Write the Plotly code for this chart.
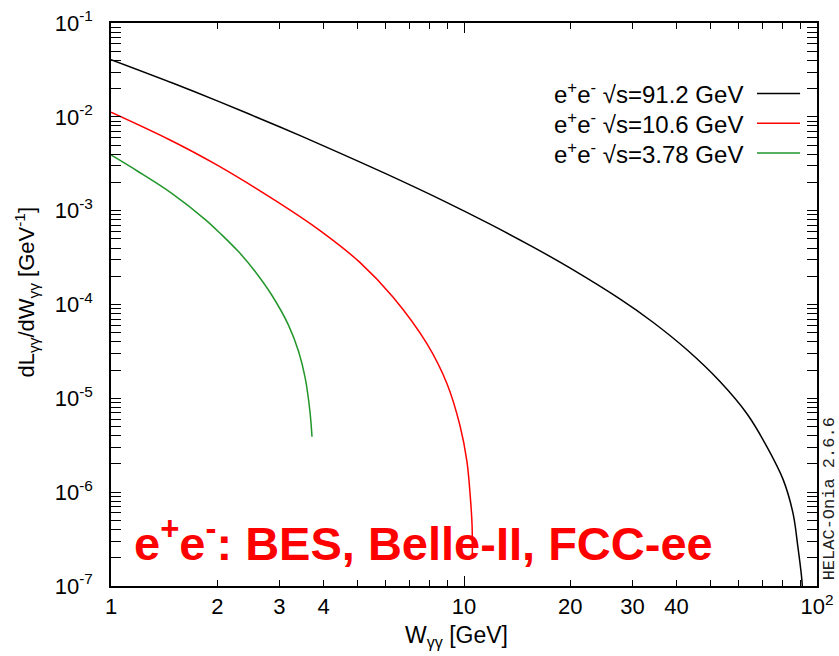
import plotly.graph_objects as go

# ---- data ----
w_913 = [1.0, 1.5, 2.0, 3.0, 4.0, 6.0, 8.72, 11.85, 15.8, 20.0, 27.7, 34.3, 42.9,
         53.1, 63.4, 72.1, 80.2, 85.5, 88.3, 90.7, 91.2]
l_913 = [0.0407, 0.0228, 0.0148, 7.83e-3, 4.91e-3, 2.48e-3, 1.28e-3, 7.18e-4, 4.04e-4,
         2.44e-4, 1.14e-4, 6.47e-5, 3.27e-5, 1.51e-5, 6.81e-6, 3.06e-6, 1.36e-6,
         5.97e-7, 2.59e-7, 1.10e-7, 5e-8]

w_106 = [1.0, 1.47, 2.0, 3.0, 3.91, 5.07, 6.29, 7.85, 8.95, 9.74, 10.19, 10.40, 10.54, 10.56]
l_106 = [1.12e-2, 5.66e-3, 3.05e-3, 1.2e-3, 6.12e-4, 2.81e-4, 1.2e-4, 3.82e-5, 1.43e-5,
         5.13e-6, 2.14e-6, 9.77e-7, 4.47e-7, 2.1e-7]

w_378 = [1.0, 1.19, 1.49, 1.85, 2.06, 2.30, 2.56, 2.85, 3.18, 3.40, 3.55, 3.66, 3.71]
l_378 = [3.92e-3, 2.63e-3, 1.52e-3, 8.04e-4, 5.52e-4, 3.64e-4, 2.25e-4, 1.27e-4,
         6.07e-5, 3.16e-5, 1.64e-5, 7.31e-6, 3.9e-6]

series_names = ["e<sup>+</sup>e<sup>-</sup> \u221as=91.2 GeV",
                "e<sup>+</sup>e<sup>-</sup> \u221as=10.6 GeV",
                "e<sup>+</sup>e<sup>-</sup> \u221as=3.78 GeV"]
series_colors = ["#000000", "#ff0000", "#22962a"]

x_tickvals = [1, 2, 3, 4, 10, 20, 30, 40, 100]
x_ticktext = ["1", "2", "3", "4", "10", "20", "30", "40", "10<sup>2</sup>"]
y_tickvals = [1e-7, 1e-6, 1e-5, 1e-4, 1e-3, 1e-2, 1e-1]
y_ticktext = ["10<sup>-7</sup>", "10<sup>-6</sup>", "10<sup>-5</sup>", "10<sup>-4</sup>",
              "10<sup>-3</sup>", "10<sup>-2</sup>", "10<sup>-1</sup>"]

FONT = "Liberation Sans, Arial, Helvetica, sans-serif"

fig = go.Figure()
for xs, ys, c in zip([w_913, w_106, w_378], [l_913, l_106, l_378], series_colors):
    fig.add_trace(go.Scatter(x=xs, y=ys, mode="lines",
                             line=dict(color=c, width=1.5, shape="spline", smoothing=1.0),
                             showlegend=False, hoverinfo="skip"))

# invisible trace on overlay axis for the long decade ticks
fig.add_trace(go.Scatter(x=[1, 100], y=[1e-7, 1e-7], xaxis="x2", mode="lines",
                         line=dict(width=0), showlegend=False, hoverinfo="skip"))

x_minor = [m * 10 ** e for e in range(0, 2) for m in range(5, 10)]
y_minor = [m * 10.0 ** e for e in range(-7, -1) for m in range(2, 10)]

axis_common = dict(showline=True, linecolor="black", linewidth=1.5, mirror="allticks",
                   ticks="inside", tickcolor="black", showgrid=False, zeroline=False,
                   automargin=False, ticklabeloverflow="allow")

fig.update_layout(
    template="none",
    width=839, height=656,
    margin=dict(l=111, r=22, t=23, b=70),
    paper_bgcolor="white", plot_bgcolor="white",
    font=dict(family=FONT, size=22, color="black"),
    xaxis=dict(type="log", range=[0, 2], tickmode="array", tickvals=x_tickvals,
               ticktext=x_ticktext, ticklen=6, tickwidth=1.2,
               minor=dict(tickmode="array", tickvals=x_minor, ticklen=6, tickwidth=1.2,
                          ticks="inside", tickcolor="black", showgrid=False),
               **axis_common),
    xaxis2=dict(type="log", range=[0, 2], overlaying="x", anchor="y", side="bottom",
                tickmode="array", tickvals=[1, 10, 100], ticklen=10, tickwidth=1.2,
                showticklabels=False, ticks="inside", tickcolor="black", mirror="allticks",
                showline=False, showgrid=False, zeroline=False, automargin=False),
    yaxis=dict(type="log", range=[-7, -1], tickmode="array", tickvals=y_tickvals,
               ticktext=y_ticktext, ticklen=10, tickwidth=1.2, ticklabelstandoff=12,
               minor=dict(tickmode="array", tickvals=y_minor, ticklen=5, tickwidth=1.2,
                          ticks="inside", tickcolor="black", showgrid=False),
               **axis_common),
)

# legend (text left, line sample right, as in the reference)
leg_y = [0.875, 0.822, 0.769]
for name, c, yy in zip(series_names, series_colors, leg_y):
    fig.add_annotation(xref="paper", yref="paper", x=0.898, y=yy, text=name,
                       showarrow=False, xanchor="right", yanchor="middle",
                       font=dict(family=FONT, size=24, color="black"))
    fig.add_shape(type="line", xref="paper", yref="paper", x0=0.915, x1=0.976,
                  y0=yy, y1=yy, line=dict(color=c, width=1.5))

# axis titles
fig.add_annotation(xref="paper", yref="paper", x=0.489, y=-0.09,
                   text="W<sub>\u03b3\u03b3</sub> [GeV]", showarrow=False,
                   xanchor="center", yanchor="middle", font=dict(family=FONT, size=23))
fig.add_annotation(xref="paper", yref="paper", x=-0.12, y=0.522, textangle=-90,
                   text="dL<sub>\u03b3\u03b3</sub>/dW<sub>\u03b3\u03b3</sub> [GeV<sup>-1</sup>]",
                   showarrow=False, xanchor="center", yanchor="middle",
                   font=dict(family=FONT, size=22))

# big red label
fig.add_annotation(xref="paper", yref="paper", x=0.443, y=0.082,
                   text="<b>e<sup>+</sup>e<sup>-</sup>: BES, Belle-II, FCC-ee</b>",
                   showarrow=False, xanchor="center", yanchor="middle",
                   font=dict(family=FONT, size=47, color="#ff0000"))

# version stamp
fig.add_annotation(xref="paper", yref="paper", x=1.0175, y=0.1545, textangle=-90,
                   text="HELAC-Onia 2.6.6", showarrow=False, xanchor="center",
                   yanchor="middle",
                   font=dict(family="Liberation Mono, DejaVu Sans Mono, monospace",
                             size=17, color="#222222"))

fig.write_html(
    "out.html",
    config={"displayModeBar": False},
    post_script=("document.body.style.margin='0';"
                 "document.body.style.overflow='hidden';"
                 "document.documentElement.style.overflow='hidden';"),
)
